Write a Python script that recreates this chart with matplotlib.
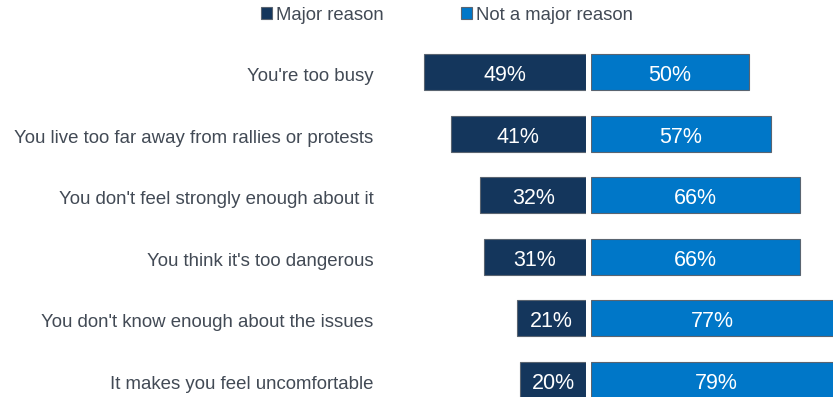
import numpy as np
import matplotlib.pyplot as plt
from matplotlib.patches import Patch

plt.rcParams['font.family'] = ['Liberation Sans', 'DejaVu Sans']

reasons = ["You're too busy",
           "You live too far away from rallies or protests",
           "You don't feel strongly enough about it",
           "You think it's too dangerous",
           "You don't know enough about the issues",
           "It makes you feel uncomfortable"]
major = [49, 41, 32, 31, 21, 20]
not_major = [50, 57, 66, 66, 77, 79]

dark = '#14365C'
blue = '#0077C8'
edge = '#5A6470'
txt = '#424A55'

W, H = 833, 397
fig = plt.figure(figsize=(W / 100, H / 100), dpi=100)

# two half-axes meeting in the middle with a small gap
axL = fig.add_axes([400 / W, 0, 186 / W, 1])
axR = fig.add_axes([591 / W, 0, 242 / W, 1])

y = np.arange(len(reasons))
step = 61.6
ylim = (5 + (H - 72 - 5 * step) / step, -72 / step)
bh = 36 / step

axL.barh(y, major, height=bh, color=dark, edgecolor=edge, linewidth=0.8)
axL.set_xlim(186 / 3.3, 0)
axR.barh(y, not_major, height=bh, color=blue, edgecolor=edge, linewidth=0.8)
axR.set_xlim(0, 242 / 3.16)

for ax in (axL, axR):
    ax.set_ylim(*ylim)
    ax.axis('off')

# value labels, baseline a little below the bar centre
for ax, vals in ((axL, major), (axR, not_major)):
    for i, v in enumerate(vals):
        ax.annotate(f"{v}%", xy=(v / 2, i), xytext=(0, -6.5),
                    textcoords='offset points', ha='center', va='baseline',
                    color='white', fontsize=15.5)

# category labels to the left of the bars
for i, r in enumerate(reasons):
    axL.annotate(r, xy=(0, i), xycoords=('axes fraction', 'data'),
                 xytext=(-19, -6.5), textcoords='offset points',
                 ha='right', va='baseline', color=txt, fontsize=13.4,
                 annotation_clip=False)

handles = [Patch(facecolor=dark, edgecolor=edge, linewidth=0.8, label='Major reason'),
           Patch(facecolor=blue, edgecolor=edge, linewidth=0.8, label='Not a major reason')]
fig.legend(handles=handles, loc='center', bbox_to_anchor=(447 / W, 1 - 15 / H),
           ncol=2, frameon=False, fontsize=13.3, handlelength=0.58, handleheight=0.58,
           handletextpad=0.22, columnspacing=4.2, labelcolor=txt, borderaxespad=0,
           borderpad=0)

fig.savefig('out.png', dpi=100)
